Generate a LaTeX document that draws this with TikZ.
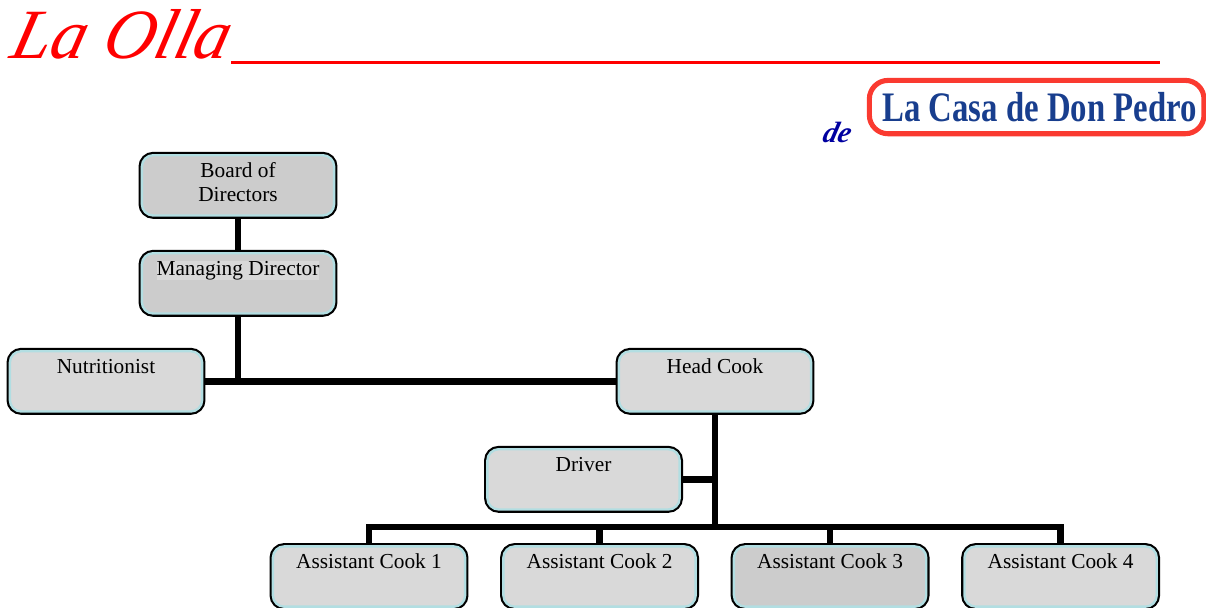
\documentclass[tikz,border=0pt]{standalone}
\usepackage{fontspec}
\setmainfont{Liberation Serif}
\newfontfamily\titlefont[FakeSlant=0.25]{Liberation Serif Italic}
\newfontfamily\logofont[FakeStretch=0.78]{Liberation Serif Bold}
\usetikzlibrary{positioning, backgrounds}
\definecolor{boxlight}{RGB}{217,217,217}
\definecolor{boxdark}{RGB}{204,204,204}
\definecolor{boxedge}{RGB}{178,222,226}
\definecolor{titlered}{RGB}{255,0,0}
\definecolor{logored}{RGB}{250,58,48}
\definecolor{logoblue}{RGB}{24,62,142}
\definecolor{deblue}{RGB}{0,0,160}
\tikzset{
    orgbox/.style={rectangle, fill=#1, draw=boxedge, line width=1.8pt, rounded corners=8.5pt, minimum width=144.2pt, minimum height=45.2pt, inner sep=0pt, outer sep=0pt, align=center, font=\fontsize{16pt}{18pt}\selectfont, preaction={draw=black, line width=5pt}},
    orgtop/.style={orgbox=#1, text height=11pt, text depth=23.2pt},
    orgline/.style={draw=black, line width=4.8pt},
    titleline/.style={draw=titlered, line width=2.3pt}
}

\begin{document}
\begin{tikzpicture}[node distance=28.3pt]

\useasboundingbox (0,0) rectangle (904.5pt,-455.25pt);
\clip (0,0) rectangle (904.5pt,-455.25pt);

\node[orgbox=boxdark] (board) at (178.5pt,-139pt) {Board of\\Directors\\[-13pt]\mbox{}};
\node[orgtop=boxdark, below=of board] (manager) {\setlength{\fboxsep}{0pt}\colorbox{boxlight}{Managing Director}};
\node[orgtop=boxlight, below=of manager, xshift=-99pt] (nutritionist) {Nutritionist};
\node[orgtop=boxlight, below=of manager, xshift=357.75pt] (headcook) {Head Cook};
\node[orgtop=boxlight, below=of headcook, xshift=-98.6pt] (driver) {Driver};
\node[orgtop=boxlight, below=of driver, xshift=12pt, yshift=0.6pt] (cook2) {Assistant Cook 2};
\node[orgtop=boxlight, left=28.7pt of cook2] (cook1) {Assistant Cook 1};
\node[orgtop=boxdark, right=28.7pt of cook2] (cook3) {Assistant Cook 3};
\node[orgtop=boxlight, right=28.7pt of cook3] (cook4) {Assistant Cook 4};

\node[text=titlered, font=\titlefont\fontsize{53pt}{53pt}\selectfont, inner sep=0pt, anchor=base west] (title) at (6pt,-43.5pt) {La Olla};
\coordinate (lineend) at (870pt,-47.2pt);
\node[rectangle, draw=logored, line width=3.8pt, rounded corners=14pt, minimum width=251pt, minimum height=40pt, inner sep=0pt, text=logoblue, font=\logofont\fontsize{31.5pt}{31.5pt}\selectfont] (logo) at (777.5pt,-80.3pt) {\hspace{4.5pt}La Casa de Don Pedro};
\node[text=deblue, font=\titlefont\bfseries\fontsize{22pt}{22pt}\selectfont, inner sep=0pt, left=13pt of logo.south west, yshift=3pt] (de) {de};

\draw[titleline] ([xshift=3.5pt]title.base east |- lineend) -- (lineend);

\begin{scope}[on background layer]
\draw[orgline] (board) -- (manager);
\draw[orgline] (manager) -- (manager |- nutritionist);
\draw[orgline] (nutritionist) -- (headcook);
\coordinate (bus) at (headcook |- 0,-395.25pt);
\draw[orgline] (headcook) -- ([yshift=-2.4pt]bus);
\draw[orgline] (driver) -- (driver -| headcook);
\draw[orgline] (cook1) -- (cook1 |- bus) -- (cook4 |- bus) -- (cook4);
\draw[orgline] (cook2) -- (cook2 |- bus);
\draw[orgline] (cook3) -- (cook3 |- bus);
\end{scope}

\end{tikzpicture}
\end{document}
